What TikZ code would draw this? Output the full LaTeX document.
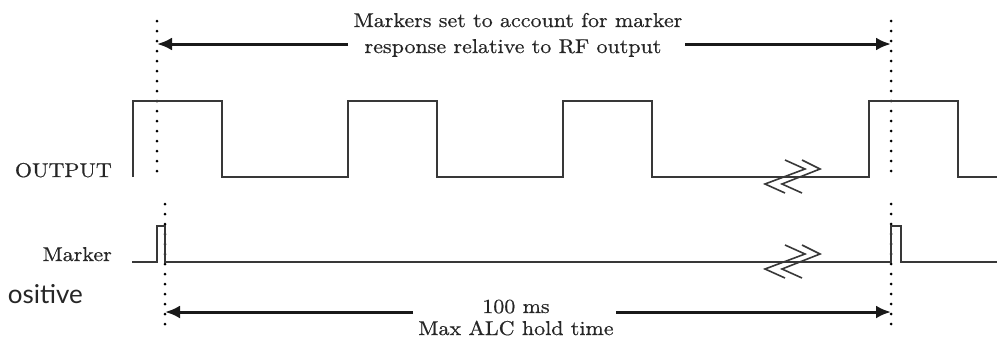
\documentclass[tikz,border=0pt]{standalone}
\usepackage{fontspec}
\setmainfont{lmroman10-regular.otf}[FakeStretch=1.1,FakeBold=0.6]
\newfontfamily\possans{Lato}
\usetikzlibrary{arrows.meta}
\begin{document}
\begin{tikzpicture}[x=1pt,y=-1pt,
  sig/.style={line width=1.7pt, draw=black!78, line join=miter},
  brk/.style={line width=1.6pt, draw=black!78, line join=miter},
  dotv/.style={line width=3pt, line cap=round, dash pattern=on 0pt off 10pt, draw=black},
  arr/.style={line width=3pt, draw=black!90, -{Latex[length=15pt,width=13pt]}},
  lbl/.style={font=\fontsize{20}{26}\selectfont, inner sep=0pt, text=black!85}]
\useasboundingbox (0,0) rectangle (997,341);

% dotted reference lines
\coordinate (d1a) at (157,21);  \coordinate (d1b) at (157,178);
\coordinate (d2a) at (891,21);  \coordinate (d2b) at (891,178);
\coordinate (d3a) at (165,204); \coordinate (d3b) at (165,331);
\coordinate (d4a) at (891,204); \coordinate (d4b) at (891,331);
\draw[dotv] (d1a) -- (d1b);
\draw[dotv] (d2a) -- (d2b);
\draw[dotv] (d3a) -- (d3b);
\draw[dotv] (d4a) -- (d4b);

% texts
\node[lbl, anchor=base] (t1) at (518,27) {Markers set to account for marker};
\node[lbl, anchor=base] (t2) at (513,53) {response relative to RF output};
\node[lbl, anchor=base east] (rf) at (112,177) {OUTPUT};
\node[lbl, anchor=base east] (mk) at (112,261) {Marker};
\node[lbl, anchor=base] (b1) at (516,313) {100 ms};
\node[lbl, anchor=base] (b2) at (516,335) {Max ALC hold time};
\node[font=\possans\fontsize{26}{30}\selectfont, anchor=base east, inner sep=0pt, text=black!85] (pos) at (83,303) {ositive};

% arrows
\coordinate (tal) at (348,44);
\coordinate (tar) at (685,44);
\coordinate (bal) at (413,312);
\coordinate (bar) at (616,312);
\draw[arr] (tal) -- (tal -| d1a);
\draw[arr] (tar) -- (tar -| d2a);
\draw[arr] (bal) -- (bal -| d3a);
\draw[arr] (bar) -- (bar -| d4a);

% RF output square wave
\draw[sig] (133,177) -- (133,101) -- (222,101) -- (222,177) -- (348,177) -- (348,101)
  -- (437,101) -- (437,177) -- (563,177) -- (563,101) -- (652,101) -- (652,177)
  -- (869,177) -- (869,101) -- (958,101) -- (958,177) -- (997,177);

% Marker signal
\draw[sig] (132,262) -- (157,262) -- (157,226) -- (165,226) -- (165,262)
  -- (891,262) -- (891,226) -- (901,226) -- (901,262) -- (997,262);

% break symbols
\coordinate (brk1) at (793,177);
\coordinate (brk2) at (793,262);
\foreach \c in {brk1,brk2}{
  \begin{scope}[shift={(\c)}]
    \draw[brk] (-8,-17) -- (12,-8) -- (-28,7) -- (-8,16);
    \draw[brk] (9,-17) -- (27,-8) -- (-11,7) -- (9,16);
  \end{scope}
}
\end{tikzpicture}
\end{document}
